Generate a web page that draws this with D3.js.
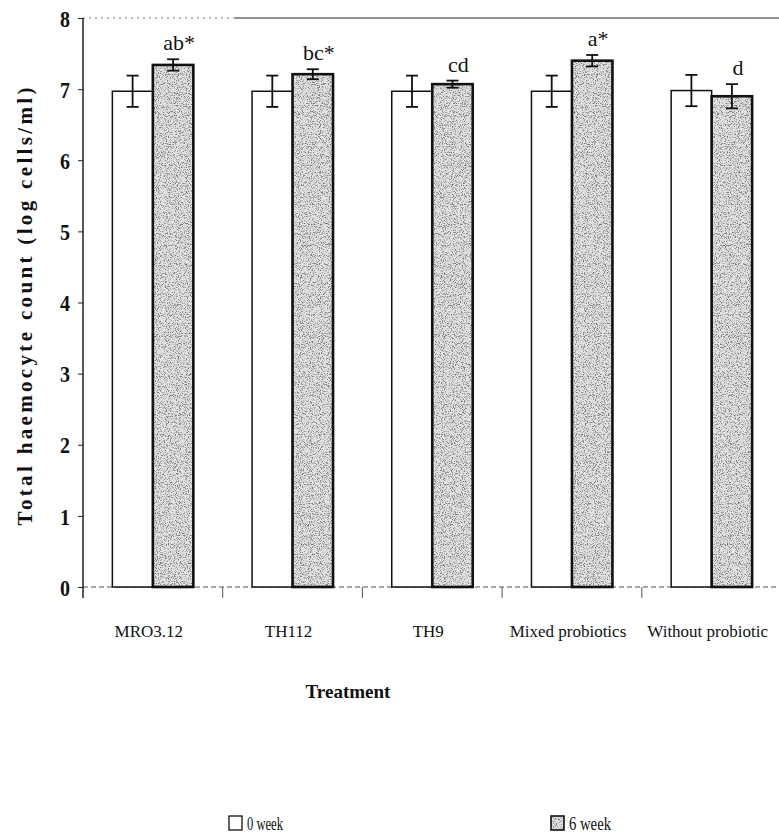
<!DOCTYPE html>
<html>
<head>
<meta charset="utf-8">
<script src="https://cdn.jsdelivr.net/npm/d3@7"></script>
<style>
  html, body { margin: 0; padding: 0; background: #fff; }
  svg { display: block; }
  text { font-family: "Liberation Serif", "Times New Roman", serif; fill: #111; }
</style>
</head>
<body>
<div id="chart"></div>
<script>
// Total haemocyte count by treatment, before and after 6 weeks
const categories = ["MRO3.12", "TH112", "TH9", "Mixed probiotics", "Without probiotic"];
const seriesNames = ["0 week", "6 week"];
const week0 = [6.97, 6.97, 6.97, 6.97, 6.98];
const week0Err = [0.22, 0.22, 0.22, 0.22, 0.22];
const week6 = [7.34, 7.21, 7.07, 7.40, 6.90];
const week6Err = [0.08, 0.07, 0.05, 0.08, 0.17];
const letters = ["ab*", "bc*", "cd", "a*", "d"];
const yTicks = [0, 1, 2, 3, 4, 5, 6, 7, 8];

const W = 779, H = 838;
const plot = { left: 83, right: 781.5, top: 18, bottom: 587 };

const svg = d3.select("#chart").append("svg")
  .attr("width", W).attr("height", H);

// stippled fill for the 6-week bars
const defs = svg.append("defs");
const f = defs.append("filter").attr("id", "stipple")
  .attr("x", 0).attr("y", 0).attr("width", 1).attr("height", 1)
  .attr("filterUnits", "objectBoundingBox");
f.append("feTurbulence").attr("type", "fractalNoise")
  .attr("baseFrequency", 0.9).attr("numOctaves", 2).attr("seed", 7).attr("result", "noise");
f.append("feColorMatrix").attr("in", "noise").attr("type", "matrix")
  .attr("values", "0 0 0 0 0.2  0 0 0 0 0.2  0 0 0 0 0.2  4.5 0 0 0 -2.2")
  .attr("result", "dots");
f.append("feComposite").attr("in", "dots").attr("in2", "SourceGraphic").attr("operator", "in");

const x0 = d3.scaleBand().domain(categories).range([plot.left, plot.right]).padding(0);
const x1 = d3.scaleBand().domain(seriesNames).range([0, x0.bandwidth()])
  .paddingInner(0).paddingOuter(0.725);
const y = d3.scaleLinear().domain([0, 8]).range([plot.bottom, plot.top]);

// top frame line
svg.append("line")
  .attr("x1", plot.left).attr("x2", plot.left + 152)
  .attr("y1", y(8)).attr("y2", y(8))
  .attr("stroke", "#777").attr("stroke-width", 1).attr("stroke-dasharray", "2,4");
svg.append("line")
  .attr("x1", plot.left + 152).attr("x2", W)
  .attr("y1", y(8)).attr("y2", y(8))
  .attr("stroke", "#222").attr("stroke-width", 1.2);

// baseline between bar groups
svg.append("line")
  .attr("x1", plot.left).attr("x2", W)
  .attr("y1", y(0)).attr("y2", y(0))
  .attr("stroke", "#555").attr("stroke-width", 1).attr("stroke-dasharray", "5,3");

// y axis
const yAxis = d3.axisLeft(y).tickValues(yTicks).tickSize(5).tickPadding(8);
const gy = svg.append("g").attr("transform", `translate(${plot.left},0)`).call(yAxis);
gy.select(".domain").remove();
gy.selectAll(".tick line").attr("stroke", "#222").attr("stroke-width", 1);
gy.selectAll(".tick text")
  .style("font-size", "24px").style("font-weight", "bold")
  .attr("dy", "0.34em")
  .attr("textLength", 10).attr("lengthAdjust", "spacingAndGlyphs");
svg.append("line")
  .attr("x1", plot.left).attr("x2", plot.left)
  .attr("y1", y(8)).attr("y2", y(0) + 11)
  .attr("stroke", "#111").attr("stroke-width", 1.4);

// category boundary ticks below baseline
const boundaries = categories.slice(1).map(c => x0(c));
svg.selectAll("line.xtick").data(boundaries).join("line")
  .attr("class", "xtick")
  .attr("x1", d => d).attr("x2", d => d)
  .attr("y1", y(0)).attr("y2", y(0) + 11)
  .attr("stroke", "#555").attr("stroke-width", 1);

// bars
const rows = categories.map((c, i) => ({
  cat: c,
  vals: [
    { s: "0 week", v: week0[i], e: week0Err[i] },
    { s: "6 week", v: week6[i], e: week6Err[i], label: letters[i] }
  ]
}));

const groups = svg.selectAll("g.grp").data(rows).join("g")
  .attr("class", "grp")
  .attr("transform", d => `translate(${x0(d.cat)},0)`);

groups.each(function (row) {
  const g = d3.select(this);
  row.vals.forEach(d => {
    const bx = x1(d.s), bw = x1.bandwidth();
    const top = y(d.v), h = y(0) - y(d.v);
    if (d.s === "0 week") {
      g.append("rect").attr("x", bx).attr("y", top).attr("width", bw).attr("height", h)
        .attr("fill", "#fff").attr("stroke", "#111").attr("stroke-width", 1.5);
    } else {
      g.append("rect").attr("x", bx).attr("y", top).attr("width", bw).attr("height", h)
        .attr("fill", "#e2e2e2");
      g.append("rect").attr("x", bx).attr("y", top).attr("width", bw).attr("height", h)
        .attr("fill", "#000").attr("filter", "url(#stipple)");
      g.append("rect").attr("x", bx).attr("y", top).attr("width", bw).attr("height", h)
        .attr("fill", "none").attr("stroke", "#111").attr("stroke-width", 2.6);
    }
    // error bar
    const cx = bx + bw / 2;
    const eg = g.append("g").attr("stroke", "#111").attr("stroke-width", 1.8);
    eg.append("line").attr("x1", cx).attr("x2", cx).attr("y1", y(d.v + d.e)).attr("y2", y(d.v - d.e));
    eg.append("line").attr("x1", cx - 6).attr("x2", cx + 6).attr("y1", y(d.v + d.e)).attr("y2", y(d.v + d.e));
    eg.append("line").attr("x1", cx - 6).attr("x2", cx + 6).attr("y1", y(d.v - d.e)).attr("y2", y(d.v - d.e));
    if (d.label) {
      g.append("text").attr("x", cx + 6).attr("y", y(d.v + d.e) - 9)
        .attr("text-anchor", "middle").style("font-size", "22px").text(d.label);
    }
  });
});

// category labels
svg.selectAll("text.cat").data(categories).join("text")
  .attr("class", "cat")
  .attr("x", d => x0(d) + x0.bandwidth() / 2 - 4)
  .attr("y", 637)
  .attr("text-anchor", "middle")
  .style("font-size", "17px")
  .text(d => d);

// axis titles
svg.append("text")
  .attr("x", 348).attr("y", 698)
  .attr("text-anchor", "middle").style("font-size", "19px").style("font-weight", "bold")
  .text("Treatment");

svg.append("text")
  .attr("transform", `translate(32,${(plot.top + plot.bottom) / 2 + 4}) rotate(-90)`)
  .attr("text-anchor", "middle").style("font-size", "21px").style("font-weight", "bold")
  .attr("textLength", 438).attr("lengthAdjust", "spacing")
  .text("Total haemocyte count (log cells/ml)");

// legend
const legendX = [229, 551];
const lg = svg.selectAll("g.leg").data(seriesNames).join("g")
  .attr("class", "leg")
  .attr("transform", (d, i) => `translate(${legendX[i]},816)`);
lg.each(function (d, i) {
  const g = d3.select(this);
  if (i === 0) {
    g.append("rect").attr("width", 13).attr("height", 14)
      .attr("fill", "#fff").attr("stroke", "#111").attr("stroke-width", 1.3);
  } else {
    g.append("rect").attr("width", 13).attr("height", 14).attr("fill", "#e2e2e2");
    g.append("rect").attr("width", 13).attr("height", 14).attr("fill", "#000").attr("filter", "url(#stipple)");
    g.append("rect").attr("width", 13).attr("height", 14)
      .attr("fill", "none").attr("stroke", "#111").attr("stroke-width", 1.6);
  }
  g.append("text").attr("x", 18).attr("y", 14).style("font-size", "18px")
    .attr("textLength", i === 0 ? 36 : 42).attr("lengthAdjust", "spacingAndGlyphs")
    .text(d);
});
</script>
</body>
</html>
